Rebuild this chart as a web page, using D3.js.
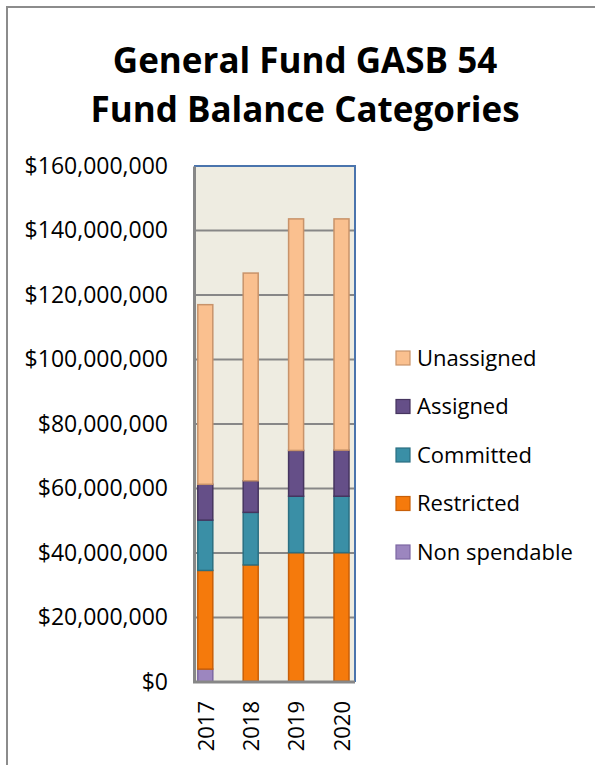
<!DOCTYPE html>
<html>
<head>
<meta charset="utf-8">
<script src="https://cdn.jsdelivr.net/npm/d3@7"></script>
<style>
  body { margin: 0; background: #fff; }
  text { font-family: "Open Sans", "Noto Sans", sans-serif; fill: #000; }
</style>
</head>
<body>
<div class="chartContainer"></div>
<script>
// data (millions of dollars)
var years = ['2017', '2018', '2019', '2020'];
var seriesNames = ['Non spendable', 'Restricted', 'Committed', 'Assigned', 'Unassigned'];
var nonSpendable = [4.0, 0.2, 0.2, 0.2];
var restricted   = [30.6, 36.1, 39.9, 39.9];
var committed    = [15.6, 16.3, 17.5, 17.5];
var assigned     = [11.1, 9.8, 14.2, 14.3];
var unassigned   = [55.7, 64.4, 71.8, 71.7];
var yTicks = [0, 20, 40, 60, 80, 100, 120, 140, 160];

var fills   = ['#9c86bf', '#f57a0c', '#3a8fa6', '#654f88', '#fac08f'];
var strokes = ['#7d68a3', '#c85f08', '#2b6f82', '#46355f', '#c8936a'];

function Graph() {
    const width = 595;
    const height = 765;
    const plot = {left: 194, right: 355, top: 166, bottom: 682};

    // build rows for the stack
    const rows = years.map((y, i) => ({
        year: y,
        'Non spendable': nonSpendable[i],
        'Restricted': restricted[i],
        'Committed': committed[i],
        'Assigned': assigned[i],
        'Unassigned': unassigned[i]
    }));
    const stacked = d3.stack().keys(seriesNames)(rows);

    const xScale = d3.scalePoint()   // bar centres
                     .domain(years)
                     .range([205.3, 341.5]);
    const barWidth = 15;

    const yScale = d3.scaleLinear()
                     .domain([0, 160])
                     .range([plot.bottom, plot.top]);

    const svg = d3.select('.chartContainer')
                  .append('svg')
                    .attr('width', width)
                    .attr('height', height);

    // outer chart frame
    svg.append('rect')
        .attr('x', 7).attr('y', 7)
        .attr('width', 620).attr('height', 800)
        .attr('fill', 'none')
        .attr('stroke', '#8c8c8c')
        .attr('stroke-width', 2);

    // title
    svg.append('text')
        .attr('x', 305).attr('y', 73)
        .attr('text-anchor', 'middle')
        .attr('font-size', 35)
        .attr('font-weight', 'bold')
        .text('General Fund GASB 54');
    svg.append('text')
        .attr('x', 305).attr('y', 122)
        .attr('text-anchor', 'middle')
        .attr('font-size', 35)
        .attr('font-weight', 'bold')
        .text('Fund Balance Categories');

    // plot background
    svg.append('rect')
        .attr('x', plot.left).attr('y', plot.top)
        .attr('width', plot.right - plot.left)
        .attr('height', plot.bottom - plot.top)
        .attr('fill', '#eeece1');

    // gridlines
    svg.append('g')
        .selectAll('line')
        .data(yTicks.slice(1, -1))
        .enter().append('line')
          .attr('x1', plot.left).attr('x2', plot.right)
          .attr('y1', d => yScale(d)).attr('y2', d => yScale(d))
          .attr('stroke', '#878787')
          .attr('stroke-width', 2);

    // top and right border (blue)
    svg.append('path')
        .attr('d', `M${plot.left},${plot.top}H${plot.right}V${plot.bottom}`)
        .attr('fill', 'none')
        .attr('stroke', '#4a74ad')
        .attr('stroke-width', 2);

    // bars
    svg.append('g')
        .selectAll('g')
        .data(stacked)
        .enter().append('g')
          .attr('fill', (d, i) => fills[i])
          .attr('stroke', (d, i) => strokes[i])
          .attr('stroke-width', 1.5)
        .selectAll('rect')
        .data(d => d)
        .enter().append('rect')
          .attr('x', d => xScale(d.data.year) - barWidth / 2)
          .attr('y', d => yScale(d[1]))
          .attr('width', barWidth)
          .attr('height', d => Math.max(0, yScale(d[0]) - yScale(d[1])));

    // y axis
    const yAxis = svg.append('g')
        .attr('transform', `translate(${plot.left}, 0)`)
        .call(d3.axisLeft(yScale)
                .tickValues(yTicks)
                .tickSize(0)
                .tickPadding(26)
                .tickFormat(d => '$' + d3.format(',')(d * 1000000)));
    yAxis.select('.domain').attr('stroke', '#878787').attr('stroke-width', 3);
    yAxis.selectAll('text').attr('font-size', 23).attr('font-family', '"Open Sans", sans-serif').attr('fill', '#000');

    // x axis
    const xAxis = svg.append('g')
        .attr('transform', `translate(0, ${plot.bottom})`)
        .call(d3.axisBottom(xScale).tickSize(0));
    xAxis.select('.domain')
        .attr('d', `M${plot.left - 1},0H${plot.right}`)
        .attr('stroke', '#878787').attr('stroke-width', 3);
    xAxis.selectAll('text')
        .attr('font-size', 22)
        .attr('font-family', '"Open Sans", sans-serif')
        .attr('fill', '#000')
        .attr('text-anchor', 'end')
        .attr('transform', 'rotate(-90)')
        .attr('x', -19)
        .attr('y', 0)
        .attr('dy', '0.35em');

    // legend (top series first)
    const legend = svg.append('g')
        .selectAll('g')
        .data(seriesNames.slice().reverse())
        .enter().append('g')
          .attr('transform', (d, i) => `translate(396, ${358 + i * 48.5})`);
    legend.append('rect')
        .attr('x', 0).attr('y', -7)
        .attr('width', 14).attr('height', 14)
        .attr('fill', d => fills[seriesNames.indexOf(d)])
        .attr('stroke', d => strokes[seriesNames.indexOf(d)])
        .attr('stroke-width', 1.2);
    legend.append('text')
        .attr('x', 21).attr('y', 0)
        .attr('dy', '0.35em')
        .attr('font-size', 22)
        .text(d => d);
}

Graph();
</script>
</body>
</html>
